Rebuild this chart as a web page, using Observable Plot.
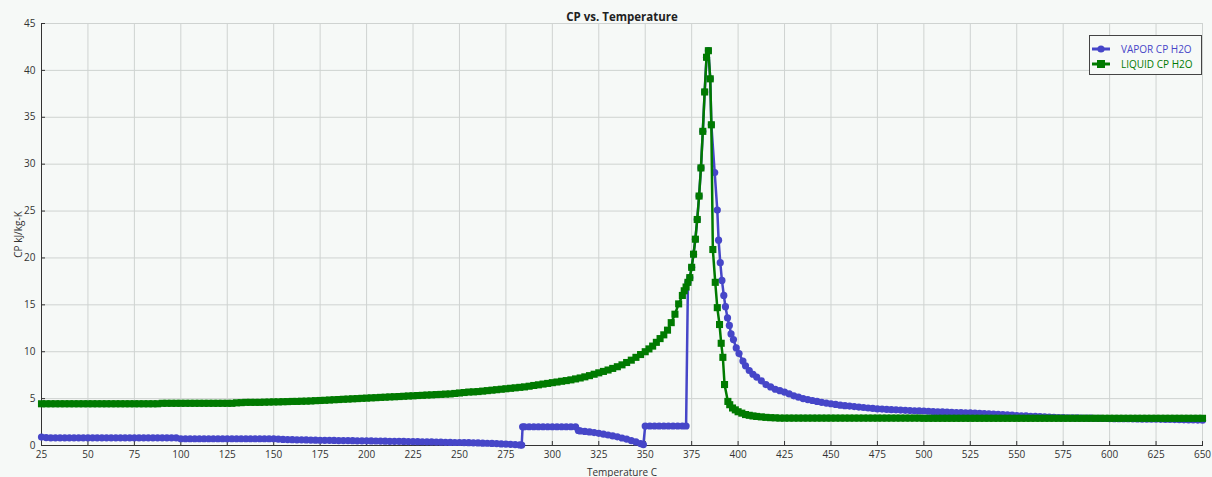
<!DOCTYPE html>
<html>
<head>
<meta charset="utf-8">
<script src="https://cdn.jsdelivr.net/npm/d3@7"></script>
<script src="https://cdn.jsdelivr.net/npm/@observablehq/plot@0.6"></script>
<style>
  html, body { margin: 0; padding: 0; background: #f6f9f7; }
  #wrap { position: relative; width: 1212px; height: 477px; }
  #legend { position: absolute; left: 1089px; top: 35px; width: 111px; height: 38px;
    border: 1px solid #444; background: #f6f9f7; font-family: "Open Sans", sans-serif; font-size: 10px; }
  .row { position: absolute; left: 1px; height: 14px; display: flex; align-items: center; }
  .row svg { width: 20px; height: 12px; margin-right: 10px; }
</style>
</head>
<body>
<div id="wrap">
  <div id="chart"></div>
  <div id="legend"></div>
</div>
<script>
const title = "CP vs. Temperature";
const xLabel = "Temperature C";
const yLabel = "CP kJ/kg-K";
const seriesNames = ["VAPOR CP H2O", "LIQUID CP H2O"];
const seriesColors = ["#4646c8", "#007a00"];
const xTicks = [25,50,75,100,125,150,175,200,225,250,275,300,325,350,375,400,425,450,475,500,525,550,575,600,625,650];
const yTicks = [0,5,10,15,20,25,30,35,40,45];

// [temperature C, CP kJ/kg-K]
const liquidPoints = [
[25,4.45],[27.5,4.45],[30,4.45],[32.5,4.45],[35,4.45],[37.5,4.45],[40,4.45],[42.5,4.45],[45,4.45],[47.5,4.45],
[50,4.45],[52.5,4.45],[55,4.45],[57.5,4.45],[60,4.45],[62.5,4.45],[65,4.45],[67.5,4.45],[70,4.45],[72.5,4.45],
[75,4.45],[77.5,4.45],[80,4.45],[82.5,4.45],[85,4.45],[87.5,4.45],[90,4.5],[92.5,4.5],[95,4.5],[97.5,4.5],
[100,4.5],[102.5,4.5],[105,4.5],[107.5,4.5],[110,4.5],[112.5,4.5],[115,4.5],[117.5,4.5],[120,4.5],[122.5,4.5],
[125,4.5],[127.5,4.5],[130,4.55],[132.5,4.57],[135,4.6],[137.5,4.6],[140,4.6],[142.5,4.6],[145,4.62],[147.5,4.63],
[150,4.65],[152.5,4.65],[155,4.67],[157.5,4.68],[160,4.7],[162.5,4.7],[165,4.72],[167.5,4.73],[170,4.75],[172.5,4.78],
[175,4.8],[177.5,4.82],[180,4.85],[182.5,4.88],[185,4.9],[187.5,4.93],[190,4.95],[192.5,4.98],[195,5.0],[197.5,5.03],
[200,5.05],[202.5,5.08],[205,5.1],[207.5,5.13],[210,5.15],[212.5,5.18],[215,5.2],[217.5,5.22],[220,5.25],[222.5,5.28],
[225,5.3],[227.5,5.33],[230,5.35],[232.5,5.38],[235,5.4],[237.5,5.43],[240,5.45],[242.5,5.48],[245,5.5],[247.5,5.55],
[250,5.6],[252.5,5.65],[255,5.7],[257.5,5.72],[260,5.75],[262.5,5.8],[265,5.85],[267.5,5.9],[270,5.95],[272.5,6.0],
[275,6.05],[277.5,6.1],[280,6.15],[282.5,6.2],[285,6.25],[287.5,6.32],[290,6.4],[292.5,6.47],[295,6.55],[297.5,6.62],
[300,6.7],[302.5,6.77],[305,6.85],[307.5,6.92],[310,7.0],[312.5,7.1],[315,7.2],[317.5,7.32],[320,7.45],[322.5,7.6],
[325,7.75],[327.5,7.9],[330,8.05],[332.5,8.22],[335,8.4],[337.5,8.6],[340,8.85],[342.5,9.1],[345,9.4],[347.5,9.7],
[350,10.0],[352,10.3],[354,10.6],[356,11.0],[358,11.4],[360,11.8],[362,12.3],[364,13.1],[366,14.0],[368,15.1],
[370,16.0],[371,16.5],[372,16.9],[373,17.4],[374,17.9],[375,19.0],[376,20.4],[377,22.0],[378,24.1],[379,26.6],
[380,29.6],[381,33.5],[382,37.7],[383,41.4],[384,42.1],[385,39.1],[385.6,34.2],[386.4,20.9],[387.7,17.4],[388.8,14.7],
[390,12.9],[390.9,10.9],[391.8,9.4],[392.7,6.5],[394.5,4.7],[395.5,4.35],[397,4.0],[398.5,3.8],[400,3.6],[402,3.45],
[404,3.3],[406,3.22],[408,3.15],[410,3.1],[412.5,3.05],[415,3.0],[417.5,2.97],[420,2.95],[422.5,2.92],[425,2.92],
[427.5,2.92],[430,2.92],[432.5,2.92],[435,2.92],[437.5,2.92],[440,2.92],[442.5,2.92],[445,2.92],[447.5,2.92],[450,2.92],
[452.5,2.92],[455,2.92],[457.5,2.92],[460,2.92],[462.5,2.92],[465,2.92],[467.5,2.92],[470,2.92],[472.5,2.92],[475,2.92],
[477.5,2.92],[480,2.92],[482.5,2.92],[485,2.92],[487.5,2.92],[490,2.92],[492.5,2.92],[495,2.92],[497.5,2.92],[500,2.9],
[502.5,2.9],[505,2.9],[507.5,2.9],[510,2.9],[512.5,2.9],[515,2.9],[517.5,2.9],[520,2.9],[522.5,2.9],[525,2.9],
[527.5,2.9],[530,2.9],[532.5,2.9],[535,2.9],[537.5,2.9],[540,2.9],[542.5,2.9],[545,2.9],[547.5,2.9],[550,2.9],
[552.5,2.9],[555,2.9],[557.5,2.9],[560,2.9],[562.5,2.9],[565,2.9],[567.5,2.9],[570,2.9],[572.5,2.9],[575,2.9],
[577.5,2.9],[580,2.9],[582.5,2.9],[585,2.9],[587.5,2.9],[590,2.9],[592.5,2.9],[595,2.9],[597.5,2.9],[600,2.9],
[602.5,2.9],[605,2.9],[607.5,2.9],[610,2.9],[612.5,2.9],[615,2.9],[617.5,2.9],[620,2.9],[622.5,2.9],[625,2.9],
[627.5,2.9],[630,2.9],[632.5,2.9],[635,2.9],[637.5,2.9],[640,2.9],[642.5,2.9],[645,2.9],[647.5,2.9],[650,2.9]
];

const vaporPoints = [
[25,0.9],[27.5,0.85],[30,0.82],[32.5,0.82],[35,0.82],[37.5,0.82],[40,0.82],[42.5,0.82],[45,0.82],[47.5,0.82],
[50,0.82],[52.5,0.82],[55,0.82],[57.5,0.82],[60,0.82],[62.5,0.82],[65,0.82],[67.5,0.82],[70,0.82],[72.5,0.82],
[75,0.82],[77.5,0.82],[80,0.82],[82.5,0.82],[85,0.82],[87.5,0.82],[90,0.82],[92.5,0.82],[95,0.82],[97.5,0.82],
[100,0.72],[102.5,0.72],[105,0.72],[107.5,0.72],[110,0.72],[112.5,0.72],[115,0.72],[117.5,0.72],[120,0.72],[122.5,0.72],
[125,0.72],[127.5,0.72],[130,0.72],[132.5,0.72],[135,0.72],[137.5,0.72],[140,0.72],[142.5,0.72],[145,0.72],[147.5,0.72],
[150,0.72],[152.5,0.68],[155,0.65],[157.5,0.63],[160,0.62],[162.5,0.61],[165,0.6],[167.5,0.59],[170,0.58],[172.5,0.57],
[175,0.56],[177.5,0.55],[180,0.55],[182.5,0.54],[185,0.53],[187.5,0.52],[190,0.52],[192.5,0.51],[195,0.5],[197.5,0.5],
[200,0.5],[202.5,0.49],[205,0.48],[207.5,0.47],[210,0.46],[212.5,0.45],[215,0.45],[217.5,0.44],[220,0.43],[222.5,0.42],
[225,0.42],[227.5,0.41],[230,0.4],[232.5,0.39],[235,0.38],[237.5,0.36],[240,0.35],[242.5,0.34],[245,0.33],[247.5,0.32],
[250,0.32],[252.5,0.31],[255,0.3],[257.5,0.28],[260,0.27],[262.5,0.25],[265,0.24],[267.5,0.22],[270,0.2],[272.5,0.17],
[275,0.15],[277.5,0.12],[280,0.1],[282.5,0.06],[283.5,0.05],[284,2.0],[285,2.0],[287.5,2.0],[290,2.0],[292.5,2.0],
[295,2.0],[297.5,2.0],[300,2.0],[302.5,2.0],[305,2.0],[307.5,2.0],[310,2.0],[312.5,2.0],[314,1.6],[315,1.55],
[317.5,1.5],[320,1.45],[322.5,1.38],[325,1.3],[327.5,1.21],[330,1.12],[332.5,1.02],[335,0.92],[337.5,0.8],[340,0.68],
[342.5,0.53],[345,0.38],[347.5,0.2],[349,0.1],[350,2.08],[352.5,2.08],[355,2.08],[357.5,2.08],[360,2.08],[362.5,2.08],
[365,2.08],[367.5,2.08],[370,2.08],[372,2.08],[373,17.4],[374,17.9],[375,19.0],[376,20.4],[377,22.0],[378,24.1],
[379,26.6],[380,29.6],[381,33.5],[382,37.7],[383,41.4],[384,42.1],[385,39.1],[385.6,34.2],[387.4,29.1],[388.8,25.1],
[389.5,21.9],[390.4,19.5],[391.3,17.6],[392.3,16.0],[393.2,14.8],[394.3,13.6],[395.3,12.8],[396.2,11.9],[397.5,11.3],[399,10.4],
[400.5,9.8],[402.6,9.0],[404,8.5],[406,8.0],[408,7.6],[410,7.3],[412.5,6.9],[415,6.5],[417.5,6.25],[420,6.0],
[422.5,5.85],[425,5.7],[427.5,5.5],[430,5.3],[432.5,5.15],[435,5.0],[437.5,4.9],[440,4.8],[442.5,4.7],[445,4.6],
[447.5,4.52],[450,4.45],[452.5,4.38],[455,4.3],[457.5,4.25],[460,4.2],[462.5,4.15],[465,4.1],[467.5,4.05],[470,4.0],
[472.5,3.95],[475,3.9],[477.5,3.88],[480,3.85],[482.5,3.82],[485,3.8],[487.5,3.78],[490,3.75],[492.5,3.72],[495,3.7],
[497.5,3.69],[500,3.68],[502.5,3.65],[505,3.62],[507.5,3.6],[510,3.58],[512.5,3.56],[515,3.54],[517.5,3.52],[520,3.5],
[522.5,3.48],[525,3.47],[527.5,3.45],[530,3.43],[532.5,3.4],[535,3.38],[537.5,3.35],[540,3.33],[542.5,3.3],[545,3.27],
[547.5,3.23],[550,3.2],[552.5,3.17],[555,3.15],[557.5,3.12],[560,3.1],[562.5,3.07],[565,3.05],[567.5,3.02],[570,3.0],
[572.5,2.98],[575,2.97],[577.5,2.96],[580,2.95],[582.5,2.94],[585,2.93],[587.5,2.92],[590,2.91],[592.5,2.9],[595,2.89],
[597.5,2.88],[600,2.87],[602.5,2.86],[605,2.86],[607.5,2.85],[610,2.85],[612.5,2.84],[615,2.83],[617.5,2.82],[620,2.81],
[622.5,2.8],[625,2.8],[627.5,2.79],[630,2.78],[632.5,2.77],[635,2.76],[637.5,2.75],[640,2.74],[642.5,2.73],[645,2.72],
[647.5,2.71],[650,2.7]
];

const vapor = vaporPoints.map(([t, cp]) => ({t, cp}));
const liquid = liquidPoints.map(([t, cp]) => ({t, cp}));

const chart = Plot.plot({
  width: 1212,
  height: 477,
  marginLeft: 41,
  marginRight: 10,
  marginTop: 23,
  marginBottom: 32,
  style: {background: "#f6f9f7", fontFamily: "'Open Sans', sans-serif", fontSize: "10px", color: "#333"},
  x: {domain: [25, 650]},
  y: {domain: [0, 45]},
  marks: [
    Plot.gridX(xTicks, {stroke: "#cfd3d1", strokeOpacity: 1}),
    Plot.gridY(yTicks, {stroke: "#cfd3d1", strokeOpacity: 1}),
    Plot.frame({anchor: "left", stroke: "#333"}),
    Plot.frame({anchor: "bottom", stroke: "#333"}),
    Plot.axisX(xTicks, {tickSize: -4, tickPadding: 9, label: xLabel, labelAnchor: "center", labelArrow: "none", labelOffset: 30, fill: "#333"}),
    Plot.axisY(yTicks, {tickSize: -4, tickPadding: 10, label: yLabel, labelAnchor: "center", labelArrow: "none", labelOffset: 27, fill: "#333"}),
    Plot.line(vapor, {x: "t", y: "cp", stroke: seriesColors[0], strokeWidth: 2.5}),
    Plot.dot(vapor, {x: "t", y: "cp", fill: seriesColors[0], r: 3.6, symbol: "circle"}),
    Plot.line(liquid, {x: "t", y: "cp", stroke: seriesColors[1], strokeWidth: 2.5}),
    Plot.dot(liquid, {x: "t", y: "cp", fill: seriesColors[1], r: 4, symbol: "square"}),
    Plot.text([title], {frameAnchor: "top", dy: -11, fontWeight: "bold", fontSize: 11.5, fill: "#222"})
  ]
});
document.getElementById("chart").appendChild(chart);

const legend = document.getElementById("legend");
seriesNames.forEach((name, i) => {
  const row = document.createElement("div");
  row.className = "row";
  row.style.top = (6 + i * 15) + "px";
  const sym = i === 0
    ? `<circle cx="10" cy="6" r="3.6" fill="${seriesColors[i]}"/>`
    : `<rect x="6" y="2" width="8" height="8" fill="${seriesColors[i]}"/>`;
  row.innerHTML = `<svg viewBox="0 0 20 12"><line x1="1" y1="6" x2="19" y2="6" stroke="${seriesColors[i]}" stroke-width="3"/>${sym}</svg><span style="color:${seriesColors[i]}">${name}</span>`;
  legend.appendChild(row);
});
</script>
</body>
</html>
